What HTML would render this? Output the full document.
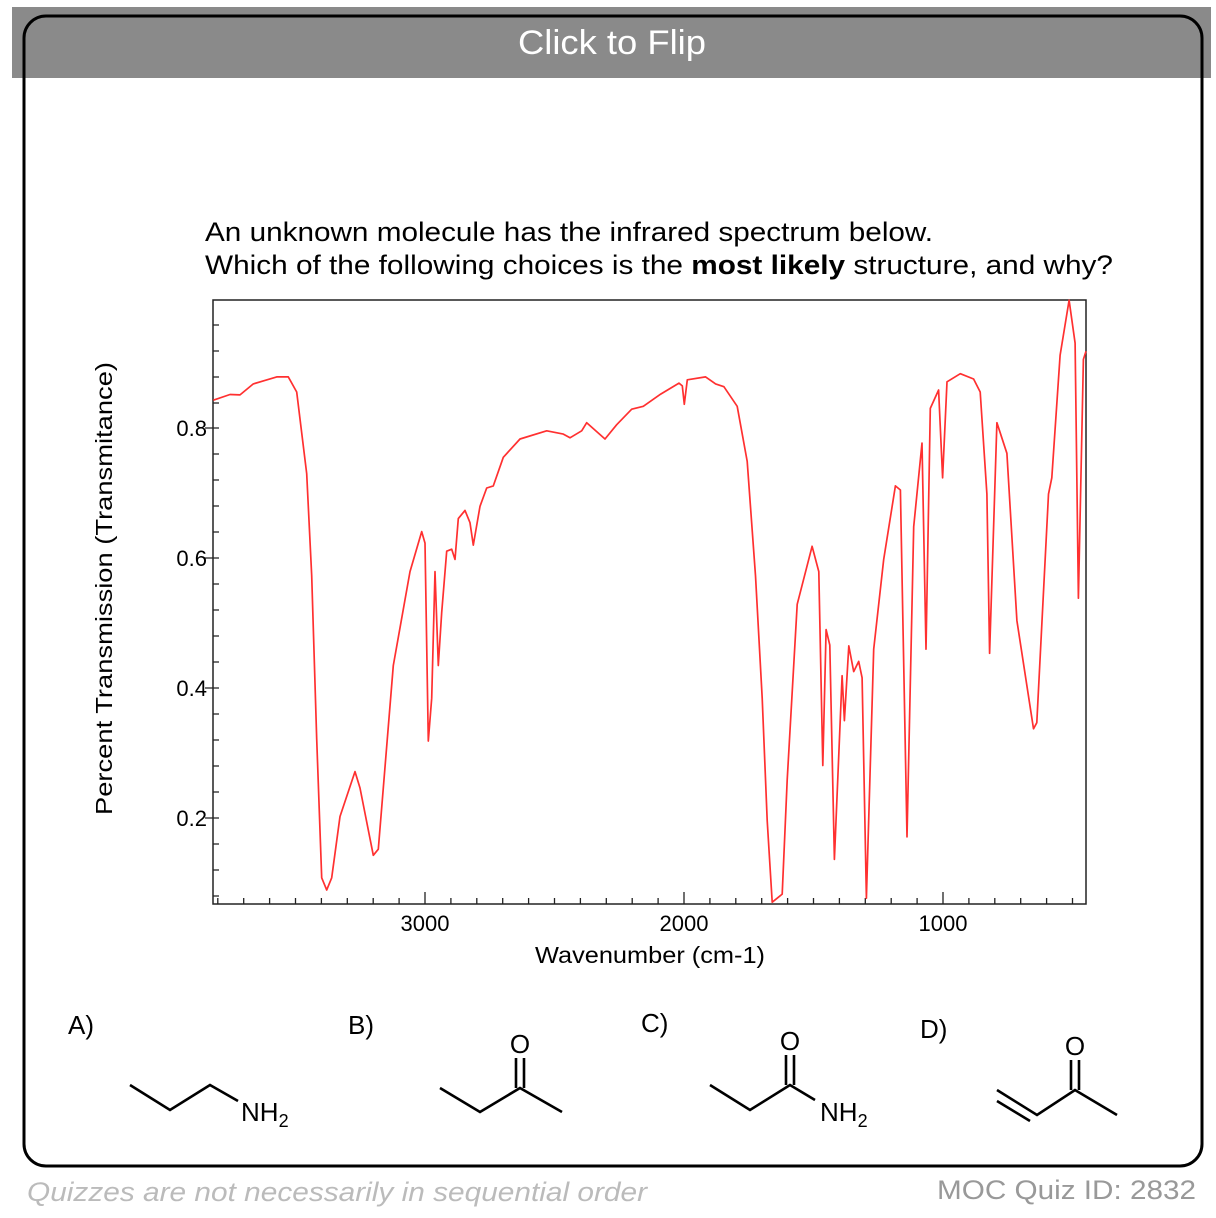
<!DOCTYPE html>
<html><head><meta charset="utf-8"><style>
body{margin:0;background:#fff;width:1216px;height:1218px;overflow:hidden;font-family:"Liberation Sans",Arial,sans-serif}
</style></head><body>
<svg width="1216" height="1218" xmlns="http://www.w3.org/2000/svg" style="position:absolute;left:0;top:0" font-family="Liberation Sans, Arial, sans-serif">
<rect x="12" y="7" width="1199" height="71" fill="#8a8a8a"/>
<rect x="24" y="16" width="1178" height="1150" rx="22" fill="none" stroke="#000" stroke-width="3"/>
<text x="518" y="54" font-size="34" fill="#fff" textLength="188" lengthAdjust="spacingAndGlyphs">Click to Flip</text>
<text x="205" y="241" font-size="27" fill="#000" textLength="728" lengthAdjust="spacingAndGlyphs">An unknown molecule has the infrared spectrum below.</text>
<text x="205" y="274" font-size="27" fill="#000" textLength="908" lengthAdjust="spacingAndGlyphs">Which of the following choices is the <tspan font-weight="bold">most likely</tspan> structure, and why?</text>
<rect x="213" y="300" width="873" height="604" fill="none" stroke="#222" stroke-width="1.5"/>
<g stroke="#222" stroke-width="1.3">
<path d="M213 325h6M213 351h6M213 377h6M213 403h6M213 454h6M213 480h6M213 506h6M213 532h6M213 584h6M213 610h6M213 636h6M213 662h6M213 714h6M213 740h6M213 766h6M213 792h6M213 844h6M213 870h6M213 896h6"/>
<path d="M205 428h14M205 558h14M205 688h14M205 818h14"/>
</g>
<g stroke="#222" stroke-width="1.3" id="xticks"></g>
<g font-size="22">
<text x="207" y="436" text-anchor="end">0.8</text>
<text x="207" y="566" text-anchor="end">0.6</text>
<text x="207" y="696" text-anchor="end">0.4</text>
<text x="207" y="826" text-anchor="end">0.2</text>
<text x="425" y="931" text-anchor="middle">3000</text>
<text x="684" y="931" text-anchor="middle">2000</text>
<text x="943" y="931" text-anchor="middle">1000</text>
</g>
<text x="535" y="963" font-size="23" textLength="230" lengthAdjust="spacingAndGlyphs">Wavenumber (cm-1)</text>
<text transform="translate(112,815) rotate(-90)" font-size="23" textLength="453" lengthAdjust="spacingAndGlyphs">Percent Transmission (Transmitance)</text>
<polyline id="curve" fill="none" stroke="#ff3030" stroke-width="1.7" stroke-linejoin="round"/>
<g stroke="#000" stroke-width="2.6" fill="none">
<polyline points="130,1085 170,1110 210,1085 238,1101"/>
<polyline points="440,1088 480,1112 520,1088 562,1112"/>
<path d="M516 1088V1058M524 1088V1058"/>
<polyline points="710,1085 750,1110 790,1085 815,1100"/>
<path d="M786 1085V1055M794 1085V1055"/>
<polyline points="997,1090 1037,1115 1075,1090 1117,1115"/>
<path d="M997 1101L1030 1121"/>
<path d="M1071 1090V1060M1079 1090V1060"/>
</g>
<g font-size="26" fill="#000">
<text x="68" y="1034">A)</text><text x="348" y="1034">B)</text><text x="641" y="1032">C)</text><text x="920" y="1038">D)</text>
<text x="241" y="1121">NH<tspan font-size="18" dy="6">2</tspan></text>
<text x="820" y="1121">NH<tspan font-size="18" dy="6">2</tspan></text>
<text x="520" y="1053" text-anchor="middle">O</text>
<text x="790" y="1050" text-anchor="middle">O</text>
<text x="1075" y="1055" text-anchor="middle">O</text>
</g>
<text x="27" y="1201" font-size="27" font-style="italic" fill="#bbb" textLength="620" lengthAdjust="spacingAndGlyphs">Quizzes are not necessarily in sequential order</text>
<text x="937" y="1199" font-size="27" fill="#999" textLength="259" lengthAdjust="spacingAndGlyphs">MOC Quiz ID: 2832</text>
</svg>
<script>
var g=document.getElementById('xticks'),d='';
for(var k=-8;k<=25;k++){var x=425+k*25.9;if(x<214||x>1085)continue;var L=(k%10==0)?12:6;d+='M'+x.toFixed(1)+' 904v-'+L;}
var p=document.createElementNS('http://www.w3.org/2000/svg','path');p.setAttribute('d',d);g.appendChild(p);
var A=[[40,270],[90,256],[120,257],[160,230],[230,213],[265,213],[290,250],[320,450],[335,700],[350,1100],[365,1440],[380,1470],[395,1440],[420,1290],[465,1180],[480,1220],[520,1385],[535,1370],[580,920],[630,690],[665,592],[675,620],[685,1105],[695,1000],[705,690],[715,920],[725,790],[740,640],[755,635],[765,660],[775,560],[795,540],[810,570],[820,625],[840,530],[860,485],[880,480],[910,410],[960,365],[1040,345],[1090,353],[1110,362],[1145,345],[1160,325],[1215,365],[1250,330],[1295,292],[1330,285],[1350,265]];
var B=[[0,290],[60,255],[115,228],[125,235],[131,280],[140,220],[195,213],[225,230],[250,237],[290,285],[320,420],[345,700],[365,1000],[380,1300],[395,1500],[410,1490],[425,1480],[440,1200],[470,770],[515,628],[535,690],[547,1165],[557,832],[568,870],[582,1395],[605,945],[612,1055],[625,872],[640,935],[655,910],[665,950],[678,1490],[700,880],[730,660],[765,480],[780,490],[800,1340],[820,580],[845,375],[857,880],[870,290],[895,245],[907,460],[920,225],[960,205],[1000,218],[1020,250],[1040,500],[1048,890],[1070,325],[1100,400],[1130,810],[1180,1075],[1190,1060],[1225,500],[1235,460],[1260,160],[1287,25],[1305,130],[1315,755],[1330,170],[1340,150]];
var pts=[];
A.forEach(function(q){if(q[0]/3+200<=648)pts.push((200+q[0]/3).toFixed(1)+','+(290+q[1]/2.45).toFixed(1));});
B.forEach(function(q){var x=640.7+q[0]/3.004;if(x>=648)pts.push(Math.min(x,1086).toFixed(1)+','+(290+q[1]/2.45).toFixed(1));});
document.getElementById('curve').setAttribute('points',pts.join(' '));
</script>
</body></html>
